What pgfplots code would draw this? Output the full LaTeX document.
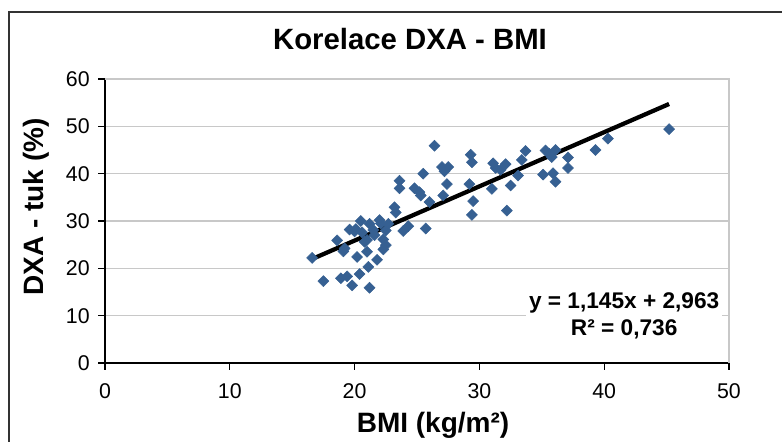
\documentclass[border=0pt]{standalone}
\usepackage{fontspec}
\setmainfont{Liberation Sans}
\usepackage{pgfplots}
\pgfplotsset{compat=1.18}
\definecolor{dotblue}{RGB}{54,96,146}
\definecolor{gridgray}{RGB}{200,200,200}

\begin{document}
\begin{tikzpicture}
\useasboundingbox (0pt,0pt) rectangle (586.5pt,331.5pt);
% chart area frame (cut off at right and bottom)
\draw[line width=1pt, black!80] (6.75pt,-4pt) -- (6.75pt,322.5pt) -- (592pt,322.5pt);

\begin{axis}[
    at={(78.75pt,59.25pt)}, anchor=origin,
    scale only axis, width=468pt, height=213pt,
    xmin=0, xmax=50, ymin=0, ymax=60,
    xtick={0,10,...,50}, ytick={0,10,...,60},
    ymajorgrids, grid style={gridgray, line width=0.8pt},
    axis x line*=bottom, axis y line*=left,
    axis line style={black, line width=0.8pt},
    tick align=outside, major tick length=5pt,
    tick style={black, line width=0.8pt},
    ticklabel style={font=\fontsize{16}{19}\selectfont},
    xticklabel style={yshift=-7pt},
    yticklabel style={xshift=-3pt},
    /pgf/number format/assume math mode=true,
    clip=false,
]
% plot area border (top and right)
\draw[gridgray, line width=0.8pt] (rel axis cs:0,1) -- (rel axis cs:1,1) -- (rel axis cs:1,0);
% measured points
\addplot[only marks, mark=square*, mark size=2.9pt,
    mark options={rotate=45, fill=dotblue, draw=dotblue}] coordinates {
    (16.6,22.2)(17.5,17.3)(18.6,25.9)(18.9,17.9)(19.1,23.6)(19.2,24.2)
    (19.4,18.3)(19.6,28.2)(19.8,16.4)(20.0,27.8)(20.1,28.3)(20.2,22.4)
    (20.4,18.8)(20.5,30.0)(20.6,27.6)(20.8,25.6)(21.0,23.5)(21.0,26.0)
    (21.1,20.3)(21.2,15.9)(21.2,29.4)(21.5,28.1)(21.6,27.0)(21.8,21.8)
    (22.0,30.2)(22.1,29.5)(22.3,24.0)(22.3,26.1)(22.5,24.9)(22.5,28.0)
    (22.7,29.4)(23.2,32.9)(23.3,31.8)(23.6,38.5)(23.6,36.9)(23.9,27.9)
    (24.3,28.9)(24.8,36.9)(25.2,36.1)(25.3,35.4)(25.5,40.0)(25.7,28.4)
    (26.0,34.0)(26.4,45.9)(27.0,41.4)(27.2,40.5)(27.5,41.4)(27.1,35.4)
    (27.4,37.8)(29.3,44.0)(29.4,42.4)(29.2,37.8)(29.5,34.2)(29.4,31.3)
    (31.0,36.8)(31.1,42.2)(31.3,41.2)(31.7,40.8)(32.1,42.0)(32.2,32.2)
    (32.5,37.5)(33.1,39.6)(33.4,42.9)(33.7,44.8)(35.1,39.8)(35.3,44.9)
    (35.6,44.2)(35.8,43.5)(35.9,40.1)(36.1,38.3)(36.1,45.0)(37.1,43.4)
    (37.1,41.2)(39.3,45.0)(40.3,47.4)(45.2,49.4)
};
% linear trend y = 1.145x + 2.963
\addplot[black, line width=3.2pt] coordinates {(16.6,21.97)(45.2,54.72)};
\node[fill=white, align=center, inner sep=2pt,
      font=\bfseries\fontsize{17}{20}\selectfont]
    at (axis cs:41.6,10.0) {y = 1,145x + 2,963\\R² = 0,736};
\end{axis}

\node[font=\bfseries\fontsize{22}{26}\selectfont] at (307.5pt,302.5pt) {Korelace DXA - BMI};
\node[font=\bfseries\fontsize{21}{24}\selectfont] at (324.75pt,12.75pt) {BMI (kg/m²)};
\node[font=\bfseries\fontsize{21}{24}\selectfont, rotate=90] at (27pt,176.25pt) {DXA - tuk (\%)};
\end{tikzpicture}
\end{document}
